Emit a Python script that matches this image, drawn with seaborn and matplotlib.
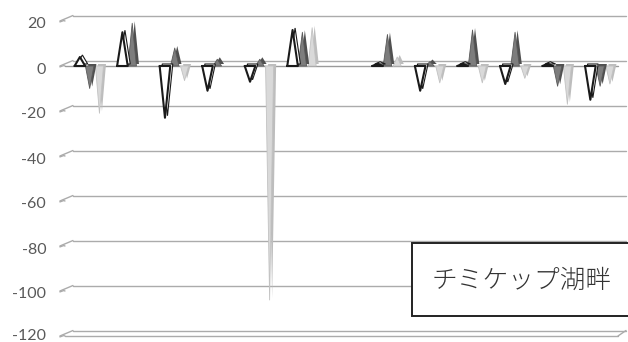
import numpy as np
import pandas as pd
import matplotlib
matplotlib.use("Agg")
import matplotlib.pyplot as plt
import matplotlib.transforms as mtransforms
from matplotlib.patches import Rectangle
from matplotlib.lines import Line2D
import seaborn as sns

# Peak value of each spike per period slot (slot 6 has no record)
slots = np.arange(13)
white_vals = [4, 15, -23, -11, -7, 16, 0, 1, -11, 1, -8, 1, -15]
dark_vals = [-10, 19, 8, 3, 3, 15, 0, 14, 2, 16, 15, -9, -9]
light_vals = [-21, 0, -6.5, 0, -104, 17, 0, 4, -7.5, -7.5, -5.5, -17, -8]
y_ticks = [20, 0, -20, -40, -60, -80, -100, -120]
title_text = "チミケップ湖畔"

sns.set_theme(style="white")
plt.rcParams["font.family"] = ["Lato", "DejaVu Sans"]

W, H, DPI = 628, 342, 100
fig = plt.figure(figsize=(W / DPI, H / DPI), dpi=DPI)
fig.patch.set_facecolor("white")

# front plane of the pseudo-3D plot box (pixels, top-left origin)
X0, X1, YT, YB = 65, 618, 21, 336
ax = fig.add_axes([X0 / W, 1 - YB / H, (X1 - X0) / W, (YB - YT) / H])
ax.set_xlim(0, 13)
ax.set_ylim(-120, 20)
ax.set_facecolor("none")
sns.despine(ax=ax, left=True, bottom=True)
ax.set_xticks([])

# depth shift of the back wall
DX, DY = 8, 5.5
back = ax.transData + mtransforms.ScaledTranslation(DX / DPI, DY / DPI, fig.dpi_scale_trans)

grid_c = "#ababab"
for v in y_ticks:
    ax.plot([0, 13], [v, v], transform=back, color=grid_c, lw=1.0, clip_on=False, zorder=1)
    ax.plot([-0.12, -0.03, 0], [v - 0.4, v + 0.2, v], color=grid_c, lw=1.0,
            clip_on=False, zorder=1)


# connectors drawn in display space between front and back points
def front_back(xf, yf, xb, yb, **kw):
    p1 = ax.transData.transform((xf, yf))
    p2 = back.transform((xb, yb))
    fig.add_artist(Line2D([p1[0], p2[0]], [p1[1], p2[1]], transform=None, **kw))


for v in y_ticks:
    front_back(-0.12, v, 0, v, color=grid_c, lw=1.0)

# floor and zero baseline on the front edge
ax.plot([0, 13], [-120, -120], color=grid_c, lw=1.0, clip_on=False, zorder=1)
front_back(13, -120, 13, -120, color=grid_c, lw=1.0)
ax.plot([0, 13], [0, 0], color="#9a9a9a", lw=1.0, clip_on=False, zorder=1)

# y tick labels
ax.set_yticks(y_ticks)
ax.set_yticklabels([str(v) for v in y_ticks])
ax.tick_params(axis="y", length=0, pad=13.5, labelsize=11.5, labelcolor="#595959")
for lab, v in zip(ax.get_yticklabels(), y_ticks):
    dy = -2 if v > -120 else 1
    lab.set_transform(lab.get_transform()
                      + mtransforms.ScaledTranslation(0, dy / DPI, fig.dpi_scale_trans))
ax.grid(False)

# build spike polygons
offsets = {"white": 0.35, "dark": 0.58, "light": 0.81}
half = {"white": 0.125, "dark": 0.10, "light": 0.095}
rows = []
for name, vals in [("light", light_vals), ("dark", dark_vals), ("white", white_vals)]:
    for i, v in zip(slots, vals):
        if v == 0:
            continue
        c = i + offsets[name]
        w = half[name]
        for k, (x, y) in enumerate([(c - w, 0), (c, v), (c + w, 0), (c - w, 0)]):
            rows.append(dict(series=name, spike=f"{name}{i}", order=k, x=x, y=y))
df = pd.DataFrame(rows)

face = {"light": "#d9d9d9", "dark": "#7d7d7d", "white": "white"}
side = {"light": "#bdbdbd", "dark": "#505050", "white": "white"}
edge = {"light": "#c2c2c2", "dark": "#5a5a5a", "white": "#1a1a1a"}
lw = {"light": 0.6, "dark": 0.6, "white": 1.5}
ribbon = ax.transData + mtransforms.ScaledTranslation(2.5 / DPI, 2 / DPI, fig.dpi_scale_trans)

z = 2.0
for name in ["light", "dark", "white"]:
    sub = df[df.series == name]
    for _, g in sub.groupby("spike"):
        ax.fill(g.x, g.y, transform=ribbon, color=side[name],
                ec=edge[name] if name == "white" else "none", lw=0.8,
                zorder=z, clip_on=False)
        ax.fill(g.x, g.y, color=face[name], lw=0, zorder=z + 0.1, clip_on=False)
    sns.lineplot(data=sub, x="x", y="y", units="spike", estimator=None, sort=False,
                 color=edge[name], linewidth=lw[name], ax=ax, zorder=z + 0.2,
                 legend=False)
    z += 0.5

ax.set_xlabel("")
ax.set_ylabel("")
ax.set_xlim(0, 13)
ax.set_ylim(-120, 20)

# label box
pix = mtransforms.Affine2D().scale(1, -1).translate(0, H)
fig.add_artist(Rectangle((412, 316), 240, -73, transform=pix, facecolor="white",
                         edgecolor="#222222", lw=1.4, zorder=5))
fig.text(522 / W, 1 - 281 / H, title_text, ha="center", va="center",
         fontsize=18.5, color="#333333", zorder=6,
         family=["Noto Sans CJK JP", "DejaVu Sans"], fontweight="light")

fig.savefig("out.png", dpi=DPI, facecolor="white")
